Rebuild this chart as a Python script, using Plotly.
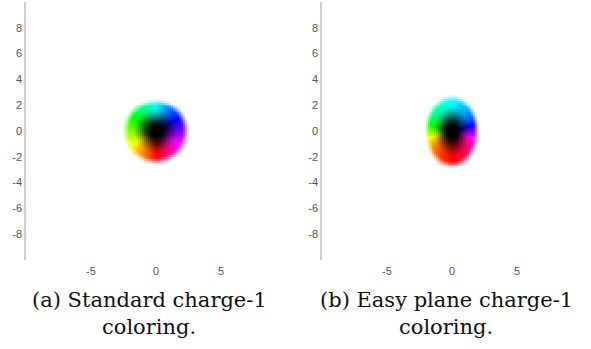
import numpy as np
import plotly.graph_objects as go

# Axis ticks shared by both panels
x_ticks = [-5, 0, 5]
y_ticks = [-8, -6, -4, -2, 0, 2, 4, 6, 8]
axis_range = [-10, 10]
grid_step = 0.15

# Panel settings: soliton half-widths (x, y) and hue compression towards the poles
captions = [
    ("(a) Standard charge-1", "coloring."),
    ("(b) Easy plane charge-1", "coloring."),
]
radius_x = [2.6, 2.15]
radius_y = [2.6, 2.95]
hue_squeeze = [1.0, 2.5]

# lightness ramp: black core -> saturated ring -> white vacuum (in scaled radius)
core_ramp = (0.1, 0.72)
edge_ramp = (0.75, 1.0)


def smoothstep(a, b, s):
    t = np.clip((s - a) / (b - a), 0, 1)
    return t * t * (3 - 2 * t)


def hsl_to_rgb(h, s, l):
    c = (1 - np.abs(2 * l - 1)) * s
    hp = (h % 360) / 60.0
    x = c * (1 - np.abs(hp % 2 - 1))
    m = l - c / 2
    r = np.zeros_like(h); g = np.zeros_like(h); b = np.zeros_like(h)
    sel = [(hp < 1), (hp >= 1) & (hp < 2), (hp >= 2) & (hp < 3),
           (hp >= 3) & (hp < 4), (hp >= 4) & (hp < 5), (hp >= 5)]
    vals = [(c, x, 0), (x, c, 0), (0, c, x), (0, x, c), (x, 0, c), (c, 0, x)]
    for s_, (rr, gg, bb) in zip(sel, vals):
        r = np.where(s_, rr, r); g = np.where(s_, gg, g); b = np.where(s_, bb, b)
    rgb = np.stack([r + m, g + m, b + m], axis=-1)
    return np.clip(np.round(rgb * 255), 0, 255).astype(np.uint8)


def soliton_image(rx, ry, squeeze):
    coords = np.arange(axis_range[0], axis_range[1] + 1e-9, grid_step)
    X, Y = np.meshgrid(coords, coords)
    sx, sy = X / rx, Y / ry
    s = np.sqrt(sx ** 2 + sy ** 2)
    theta = np.arctan2(sy, sx)
    phi = np.arctan2(squeeze * np.sin(theta), np.cos(theta))
    light = 0.5 * smoothstep(*core_ramp, s) + 0.5 * smoothstep(*edge_ramp, s)
    hue = (-np.degrees(phi) - 90) % 360
    return coords, hsl_to_rgb(hue, np.ones_like(hue), light)


fig = go.Figure()
fig_w, fig_h = 591, 349
m_l, m_r, m_t, m_b = 26, 9, 2, 89
plot_w = fig_w - m_l - m_r
plot_h = fig_h - m_t - m_b
domains = [[0, 260 / plot_w], [(322 - m_l) / plot_w, 1]]

ax_font = dict(family="Liberation Sans", size=11, color="#555")
cap_font = dict(family="DejaVu Serif", size=21, color="#111")

for i in range(2):
    coords, img = soliton_image(radius_x[i], radius_y[i], hue_squeeze[i])
    xa = "x" if i == 0 else "x2"
    ya = "y" if i == 0 else "y2"
    fig.add_trace(go.Image(z=img, x0=coords[0], dx=grid_step, y0=coords[0], dy=grid_step,
                           xaxis=xa, yaxis=ya, hoverinfo="skip"))
    xkey = "xaxis" if i == 0 else "xaxis2"
    ykey = "yaxis" if i == 0 else "yaxis2"
    fig.layout[xkey] = dict(domain=domains[i], range=axis_range, autorange=False,
                            tickvals=x_ticks, ticktext=[str(v) for v in x_ticks],
                            showgrid=False, zeroline=False, showline=False,
                            ticks="", tickfont=ax_font, anchor=ya, ticklabelstandoff=3)
    fig.layout[ykey] = dict(domain=[0, 1], range=axis_range, autorange=False,
                            tickvals=y_ticks, ticktext=[str(v) for v in y_ticks],
                            showgrid=False, zeroline=False, showline=True,
                            linecolor="#cfcfcf", linewidth=1.5,
                            ticks="", tickfont=ax_font, anchor=xa, scaleanchor=False)

    center_px = [149, 446][i]
    xp = (center_px - m_l) / plot_w
    for j, line in enumerate(captions[i]):
        py = [300, 327][j]
        fig.add_annotation(text=line, xref="paper", yref="paper",
                           x=xp, y=(plot_h + m_t - py) / plot_h,
                           xanchor="center", yanchor="middle", showarrow=False,
                           font=cap_font)

fig.update_layout(width=fig_w, height=fig_h, plot_bgcolor="white", paper_bgcolor="white",
                  margin=dict(l=m_l, r=m_r, t=m_t, b=m_b), showlegend=False)

fig.write_html("out.html")
